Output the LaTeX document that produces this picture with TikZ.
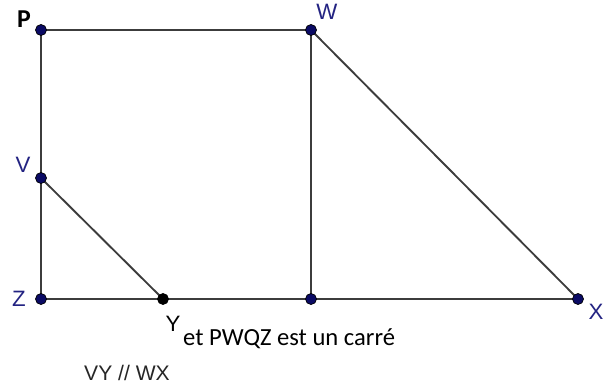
\documentclass[tikz,border=0pt]{standalone}
\usepackage{fontspec}
\setmainfont{Liberation Sans}
\newfontfamily\calibri{Carlito}
\definecolor{ptblue}{RGB}{10,10,100}
\definecolor{lblblue}{RGB}{35,35,130}
\definecolor{segray}{RGB}{60,60,60}
\begin{document}
\begin{tikzpicture}[x=0.03cm,y=-0.03cm]

    \tikzset{
      seg/.style={
        color=segray,
        line width=1.6pt,
      },
      point/.style={
        draw=black,
        fill=ptblue,
        line width=0.6pt,
      },
      lbl/.style={
        color=lblblue,
        font=\fontsize{19}{22}\selectfont,
      },
    }

	\useasboundingbox (0,0) rectangle (609,389);

	\coordinate (P) at (41,30);
	\coordinate (W) at (311,30);
	\coordinate (V) at (41,178);
	\coordinate (Z) at (41,299);
	\coordinate (Y) at (163,299);
	\coordinate (Q) at (311,299);
	\coordinate (X) at (578,299);

	\draw[seg] (P)--(W);
	\draw[seg] (P)--(Z);
	\draw[seg] (Z)--(X);
	\draw[seg] (W)--(Q);
	\draw[seg] (W)--(X);
	\draw[seg] (V)--(Y);

	\filldraw[point] (P) circle (5.5);
	\filldraw[point] (W) circle (5.5);
	\filldraw[point] (V) circle (5.5);
	\filldraw[point] (Z) circle (5.5);
	\filldraw[point] (Q) circle (5.5);
	\filldraw[point] (X) circle (5.5);
	\filldraw[point,fill=black] (Y) circle (5.5);

	\node[font=\calibri\bfseries\fontsize{22}{26}\selectfont] (lP) at (24,19) {P};
	\node[lbl] (lW) at (327,12) {W};
	\node[lbl] (lV) at (23,165) {V};
	\node[lbl] (lZ) at (19,299) {Z};
	\node[lbl,color=black] (lY) at (173,324) {Y};
	\node[lbl] (lX) at (596,312) {X};
	\node[anchor=base west,inner sep=0pt,font=\calibri\fontsize{21}{24}\selectfont] (note) at (183,345) {et PWQZ est un carré};
	\node[font=\fontsize{18}{21}\selectfont,color=black!85] (par) at (127,373) {VY // WX};

\end{tikzpicture}
\end{document}
